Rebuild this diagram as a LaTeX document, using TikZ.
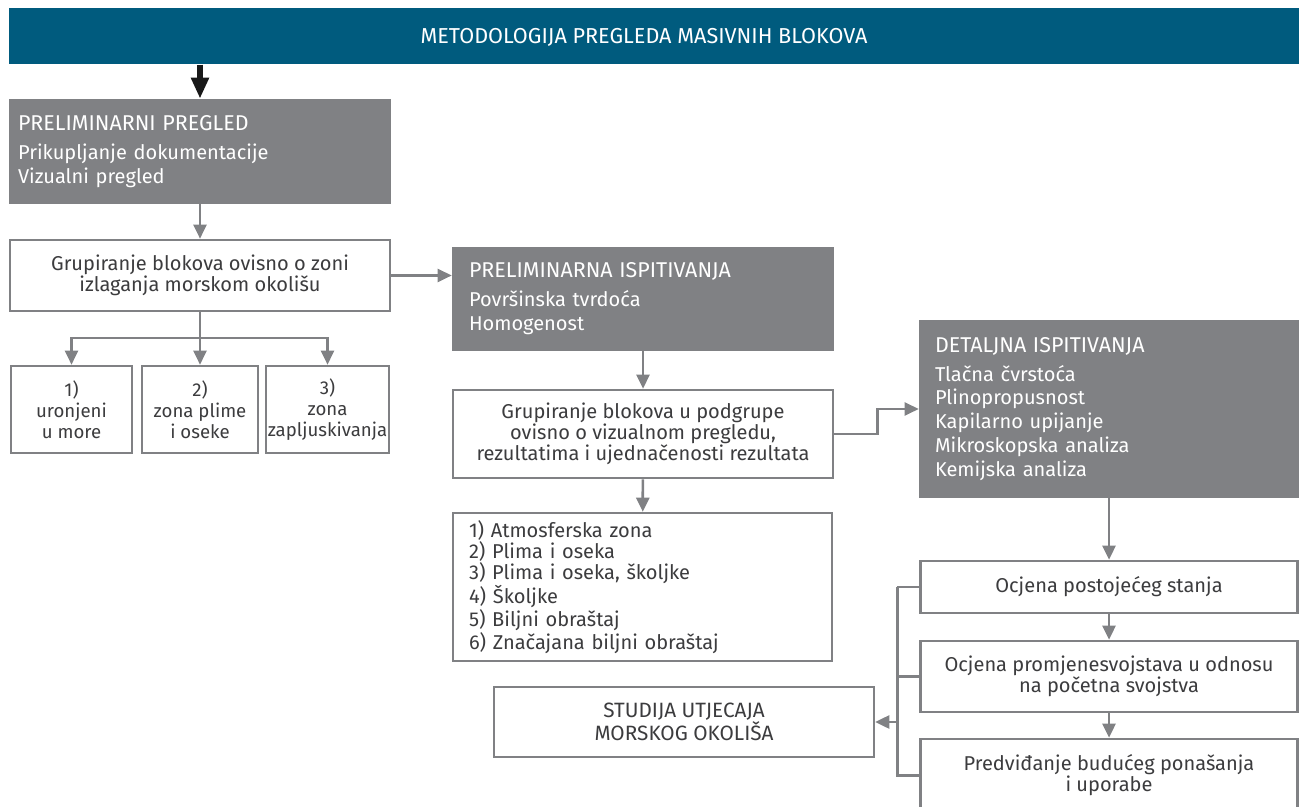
\documentclass[tikz,border=0pt]{standalone}
\usepackage{fontspec}
\setmainfont{Fira Sans}
\usetikzlibrary{positioning, arrows.meta, calc}

\definecolor{headblue}{HTML}{005B7E}
\definecolor{boxgray}{HTML}{808184}
\definecolor{linegray}{HTML}{808184}
\definecolor{textgray}{HTML}{3C3C3E}

\newcommand{\boxhead}[1]{{\fontsize{12.2pt}{13.6pt}\selectfont #1}}

\begin{document}
\begin{tikzpicture}[
        x=0.02cm, y=-0.02cm,
        >={Triangle[length=0.28cm, width=0.26cm]},
        font=\fontsize{11.4pt}{11.9pt}\selectfont,
        conn/.style={draw=linegray, line width=1.5pt, ->},
        line/.style={draw=linegray, line width=1.5pt},
        graybox/.style={rectangle, fill=boxgray, text=white, align=left, inner ysep=0pt,
            font=\fontsize{11.4pt}{13.6pt}\selectfont},
        whitebox/.style={rectangle, draw=linegray, line width=1.5pt, fill=white, text=textgray,
            align=center, inner sep=0pt},
    ]
    \useasboundingbox (0,0) rectangle (1299,807);

    % Title bar
    \node[rectangle, fill=headblue, text=white, minimum width=26cm, minimum height=1.12cm,
        anchor=north west, inner sep=0pt] (title) at (9,8) {};
    \node[text=white, font=\fontsize{12.3pt}{13pt}\selectfont] (title-txt) at (644,37)
        {METODOLOGIJA PREGLEDA MASIVNIH BLOKOVA};

    % Draw the left column
    \node[graybox, minimum width=7.64cm, minimum height=2.1cm, inner xsep=0.18cm, text width=7.28cm]
        (pp) at (200,151.5) {\boxhead{PRELIMINARNI PREGLED}\\[0.1cm]Prikupljanje dokumentacije\\Vizualni pregled};
    \node[whitebox, minimum width=7.6cm, minimum height=1.42cm] (g1) at (200,275.5)
        {Grupiranje blokova ovisno o zoni\\izlaganja morskom okolišu};
    \foreach \name / \x / \w / \txt in {1/71.5/2.42/{1)\\uronjeni\\u more},
                                       2/200/2.32/{2)\\zona plime\\i oseke},
                                       3/327.5/2.46/{3)\\zona\\zapljuskivanja}}
        \node[whitebox, minimum width=\w cm, minimum height=1.74cm,
            font=\fontsize{10.6pt}{11.9pt}\selectfont] (z\name) at (\x,409.5) {\txt};

    % Draw the middle column
    \node[graybox, minimum width=7.64cm, minimum height=2.08cm, inner xsep=0.34cm, text width=6.96cm]
        (pi) at (643,299) {\boxhead{PRELIMINARNA ISPITIVANJA}\\[0.1cm]Površinska tvrdoća\\Homogenost};
    \node[whitebox, minimum width=7.6cm, minimum height=1.76cm] (g2) at (643,434)
        {Grupiranje blokova u podgrupe\\ovisno o vizualnom pregledu,\\rezultatima i ujednačenosti rezultata};
    \node[whitebox, minimum width=7.58cm, minimum height=2.96cm, align=left, inner xsep=0.32cm,
        text width=6.94cm] (list) at (642.5,587)
        {1) Atmosferska zona\\2) Plima i oseka\\3) Plima i oseka, školjke\\4) Školjke\\5) Biljni obraštaj\\6) Značajana biljni obraštaj};
    \node[whitebox, minimum width=7.6cm, minimum height=1.4cm,
        font=\fontsize{11.8pt}{11.9pt}\selectfont] (st) at (684,722)
        {STUDIJA UTJECAJA\\MORSKOG OKOLIŠA};

    % Draw the right column
    \node[graybox, minimum width=7.6cm, minimum height=3.56cm, inner xsep=0.32cm, text width=6.96cm]
        (di) at (1109,409) {\boxhead{DETALJNA ISPITIVANJA}\\[0.1cm]Tlačna čvrstoća\\Plinopropusnost\\Kapilarno upijanje\\Mikroskopska analiza\\Kemijska analiza};
    \node[whitebox, minimum width=7.54cm, minimum height=1.04cm] (o1) at (1109,587)
        {Ocjena postojećeg stanja};
    \node[whitebox, minimum width=7.54cm, minimum height=1.42cm] (o2) at (1109,676.5)
        {Ocjena promjenesvojstava u odnosu\\na početna svojstva};
    \node[whitebox, minimum width=7.54cm, minimum height=1.46cm] (o3) at (1109,775.5)
        {Predviđanje budućeg ponašanja\\i uporabe};

    % Connect the boxes
    \draw[line width=3.4pt, draw=black!90, -{Triangle[length=0.42cm, width=0.34cm]}]
        (pp.north |- title.south) -- (pp.north);
    \draw[conn] (pp) -- (g1);
    \draw[conn] (g1.east) -- (g1.east -| pi.west);
    \coordinate (split) at (200,338);
    \draw[line] (g1.south) -- (split);
    \foreach \name in {1,2,3}
        \draw[conn] (split) -| (z\name.north);
    \draw[conn] (pi) -- (g2);
    \draw[conn] (g2) -- (list);
    \draw[conn] (g2.east) -- ++(43,0) |- (di.west);
    \draw[conn] (di) -- (o1);
    \draw[conn] (o1) -- (o2);
    \draw[conn] (o2) -- (o3);

    % Gather the three assessments
    \draw[line] (o1.west) -- ++(-22,0) coordinate (bt);
    \draw[line] (bt) |- (o3.west);
    \draw[line] (o2.west) -- (o2.west -| bt);
    \draw[conn] (st.east -| bt) -- (st.east);
\end{tikzpicture}
\end{document}
